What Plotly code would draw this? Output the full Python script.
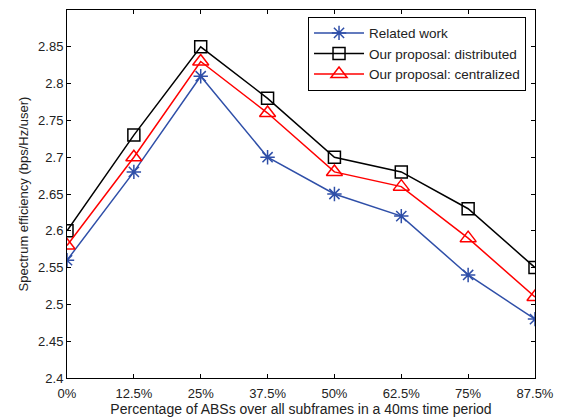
import plotly.graph_objects as go

x_labels = ["0%", "12.5%", "25%", "37.5%", "50%", "62.5%", "75%", "87.5%"]
x_idx = list(range(len(x_labels)))
related = [2.56, 2.68, 2.81, 2.70, 2.65, 2.62, 2.54, 2.48]
distributed = [2.60, 2.73, 2.85, 2.78, 2.70, 2.68, 2.63, 2.55]
centralized = [2.58, 2.70, 2.83, 2.76, 2.68, 2.66, 2.59, 2.51]
y_ticks = [2.4, 2.45, 2.5, 2.55, 2.6, 2.65, 2.7, 2.75, 2.8, 2.85]

font = "Liberation Sans, Arial, sans-serif"
fig = go.Figure()
fig.add_trace(go.Scatter(x=x_idx, y=related, mode="lines+markers", name="Related work",
                         line=dict(color="#2f4fa8", width=1.5),
                         marker=dict(symbol="asterisk-open", size=12, color="#2f4fa8",
                                     line=dict(color="#2f4fa8", width=1.5))))
fig.add_trace(go.Scatter(x=x_idx, y=distributed, mode="lines+markers", name="Our proposal: distributed",
                         line=dict(color="black", width=1.5),
                         marker=dict(symbol="square-open", size=12, color="black",
                                     line=dict(color="black", width=1.5))))
fig.add_trace(go.Scatter(x=x_idx, y=centralized, mode="lines+markers", name="Our proposal: centralized",
                         line=dict(color="#ff0000", width=1.5),
                         marker=dict(symbol="triangle-up-open", size=14, color="#ff0000",
                                     line=dict(color="#ff0000", width=1.5))))

axis_common = dict(showline=True, linecolor="black", linewidth=1, mirror="ticks",
                   ticks="inside", ticklen=4, tickcolor="black", showgrid=False,
                   zeroline=False, automargin=False,
                   tickfont=dict(size=13, color="#222", family=font))
fig.update_xaxes(range=[0, 7], tickmode="array", tickvals=x_idx, ticktext=x_labels,
                 ticklabelstandoff=3,
                 title=dict(text="Percentage of ABSs over all subframes in a 40ms time period",
                            font=dict(size=14, color="#222", family=font), standoff=4),
                 **axis_common)
fig.update_yaxes(range=[2.4, 2.9], tickmode="array", tickvals=y_ticks,
                 ticktext=[f"{v:g}" for v in y_ticks],
                 title=dict(text="Spectrum efficiency (bps/Hz/user)",
                            font=dict(size=13, color="#222", family=font), standoff=6),
                 **axis_common)
fig.update_layout(width=571, height=419,
                  margin=dict(l=66.5, r=36, t=9.5, b=41, pad=0),
                  paper_bgcolor="white", plot_bgcolor="white",
                  font=dict(family=font, size=13, color="#222"),
                  legend=dict(x=0.515, y=0.982, xanchor="left", yanchor="top",
                              bgcolor="white", bordercolor="black", borderwidth=1,
                              font=dict(size=13.5, family=font, color="#222"),
                              tracegroupgap=0, itemwidth=50))
fig.write_html("out.html")
